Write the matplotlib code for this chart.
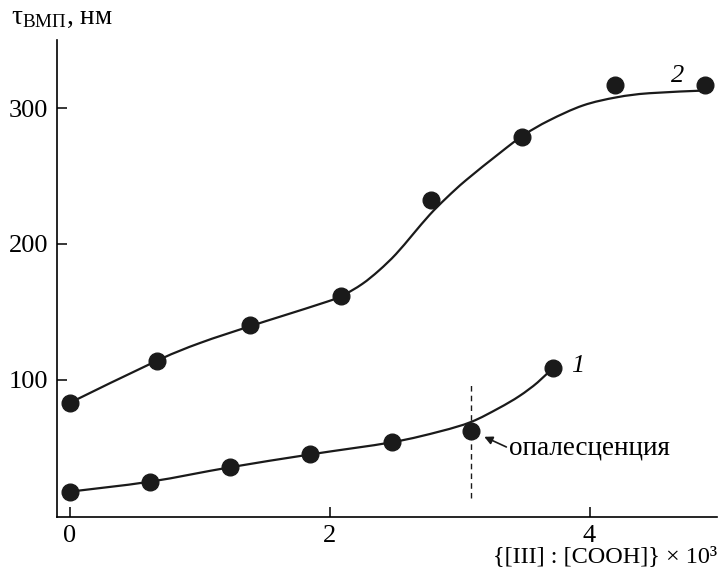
import numpy as np
import matplotlib.pyplot as plt
from matplotlib.path import Path
from matplotlib.patches import PathPatch

plt.rcParams['font.family'] = ['Liberation Serif', 'DejaVu Serif']
plt.rcParams['mathtext.fontset'] = 'custom'
plt.rcParams['mathtext.rm'] = 'Liberation Serif'
plt.rcParams['mathtext.it'] = 'Liberation Serif:italic'

# measured points
x2 = [0.0, 0.67, 1.39, 2.09, 2.78, 3.48, 4.20, 4.89]
y2 = [83, 114, 140, 162, 232, 279, 317, 317]
x1 = [0.0, 0.62, 1.23, 1.85, 2.48, 3.09, 3.72]
y1 = [17.6, 25, 36, 45, 54, 62.5, 109]

# smooth curves
cx2 = [0.0, 0.67, 1.0, 1.39, 1.62, 1.98, 2.10, 2.25, 2.38, 2.51, 2.64, 2.77,
       2.90, 3.05, 3.31, 3.49, 3.69, 3.95, 4.21, 4.46, 4.89]
cy2 = [83, 114, 127, 139.5, 146.5, 157.5, 162, 170.5, 180.5, 192.5, 207, 221.5,
       234, 247, 267, 280, 291, 302, 308, 311, 313]
cx1 = [0.0, 0.62, 1.23, 1.85, 2.48, 2.85, 3.09, 3.30, 3.46, 3.60, 3.72]
cy1 = [17.6, 25, 35.5, 45, 54, 62, 69, 79, 88, 98, 109]

x_opal = 3.09


def smooth_path(xs, ys):
    # catmull-rom through the traced points, drawn as bezier segments
    p = np.column_stack([xs, ys]).astype(float)
    p = np.vstack([p[0], p, p[-1]])
    verts = [p[1]]
    codes = [Path.MOVETO]
    for i in range(1, len(p) - 2):
        c1 = p[i] + (p[i + 1] - p[i - 1]) / 6
        c2 = p[i + 1] - (p[i + 2] - p[i]) / 6
        verts += [c1, c2, p[i + 1]]
        codes += [Path.CURVE4] * 3
    return Path(verts, codes)


fig = plt.figure(figsize=(7.19, 5.75), dpi=100)
ax = fig.add_axes([0.079, 0.101, 0.918, 0.829])

for cx, cy in [(cx2, cy2), (cx1, cy1)]:
    ax.add_patch(PathPatch(smooth_path(cx, cy), fill=False, ec='#1a1a1a', lw=1.6))
ax.plot(x2, y2, 'o', color='#1a1a1a', ms=12)
ax.plot(x1, y1, 'o', color='#1a1a1a', ms=12)

ax.plot([x_opal, x_opal], [13, 98.5], color='#1a1a1a', lw=1.0, ls=(0, (4, 3)))
ax.annotate('', xy=(3.19, 58), xytext=(3.36, 50.5),
            arrowprops=dict(arrowstyle='-|>', color='#1a1a1a', lw=1.2,
                            mutation_scale=12, shrinkA=0, shrinkB=0))
ax.text(3.38, 49.5, 'опалесценция', fontsize=19.5, va='center', ha='left')

ax.text(4.68, 324, '2', fontsize=19, style='italic', ha='center', va='center')
ax.text(3.91, 110, '1', fontsize=19, style='italic', ha='center', va='center')

ax.set_xlim(-0.1, 4.98)
ax.set_ylim(-1, 350)
ax.set_xticks([0, 2, 4])
ax.set_yticks([100, 200, 300])
ax.tick_params(direction='in', length=7, width=1.1, labelsize=19, pad=6)
for s in ['top', 'right']:
    ax.spines[s].set_visible(False)
for s in ['left', 'bottom']:
    ax.spines[s].set_linewidth(1.2)

fig.text(0.997, 0.022, '{[III] : [COOH]} × 10³', fontsize=17.5, ha='right', va='baseline')
fig.text(0.015, 0.958, r'$\mathrm{\tau_{ВМП}}$, нм', fontsize=19.5, ha='left', va='baseline')

fig.savefig('out.png', dpi=100)
